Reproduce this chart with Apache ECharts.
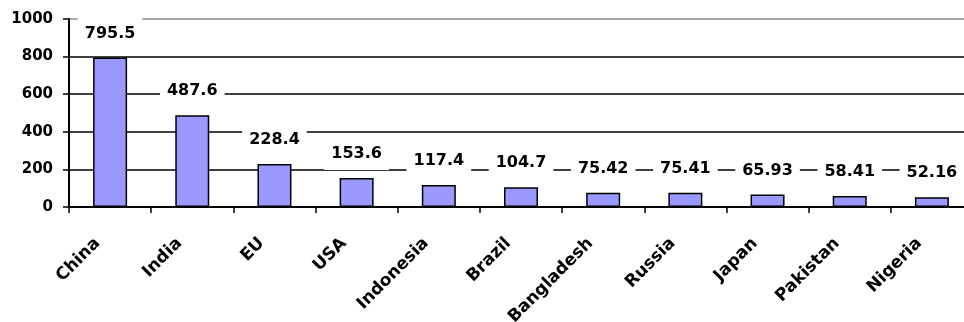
<!DOCTYPE html>
<html>
<head>
<meta charset="utf-8">
<script src="https://cdn.jsdelivr.net/npm/echarts@6/dist/echarts.min.js"></script>
<style>
  html, body { margin: 0; padding: 0; background: #fff; }
  #chart { width: 964px; height: 322px; }
</style>
</head>
<body>
<div id="chart"></div>
<script>
// Countries and their values
const categories = ['China', 'India', 'EU', 'USA', 'Indonesia', 'Brazil', 'Bangladesh', 'Russia', 'Japan', 'Pakistan', 'Nigeria'];
const values = [795.5, 487.6, 228.4, 153.6, 117.4, 104.7, 75.42, 75.41, 65.93, 58.41, 52.16];
const yTicks = [0, 200, 400, 600, 800, 1000];

const FONT = '"DejaVu Sans", Arial, sans-serif';
const chart = echarts.init(document.getElementById('chart'), null, { renderer: 'canvas' });

chart.setOption({
  animation: false,
  backgroundColor: '#ffffff',
  grid: {
    left: 69, top: 19, width: 904, height: 188,
    containLabel: false,
    outerBoundsMode: 'none'
  },
  xAxis: {
    type: 'category',
    data: categories,
    axisLine: { lineStyle: { color: '#000', width: 2 } },
    axisTick: { show: true, length: 6, lineStyle: { color: '#000', width: 1.5 } },
    axisLabel: {
      rotate: 45,
      margin: 21,
      padding: [0, 18, 0, 0],
      color: '#000',
      fontFamily: FONT,
      fontWeight: 'bold',
      fontSize: 17
    }
  },
  yAxis: {
    type: 'value',
    min: yTicks[0],
    max: yTicks[yTicks.length - 1],
    interval: yTicks[1] - yTicks[0],
    axisLine: { show: true, lineStyle: { color: '#000', width: 2 } },
    axisTick: { show: true, length: 6, lineStyle: { color: '#000', width: 1.5 } },
    axisLabel: {
      margin: 16,
      color: '#000',
      fontFamily: FONT,
      fontWeight: 'bold',
      fontSize: 15,
      formatter: (v) => String(v)
    },
    splitLine: {
      show: true,
      lineStyle: {
        color: ['#000', '#000', '#000', '#000', '#000', '#8c8c8c'],
        width: 1.5
      }
    }
  },
  series: [{
    type: 'bar',
    data: values,
    barWidth: 34,
    itemStyle: { color: '#9999ff', borderColor: '#000', borderWidth: 1.5 },
    label: {
      show: true,
      position: 'top',
      distance: 8,
      color: '#000',
      fontFamily: FONT,
      fontWeight: 'bold',
      fontSize: 16,
      lineHeight: 16,
      backgroundColor: '#fff',
      padding: [8, 7],
      formatter: (p) => String(p.value)
    }
  }]
});
</script>
</body>
</html>
